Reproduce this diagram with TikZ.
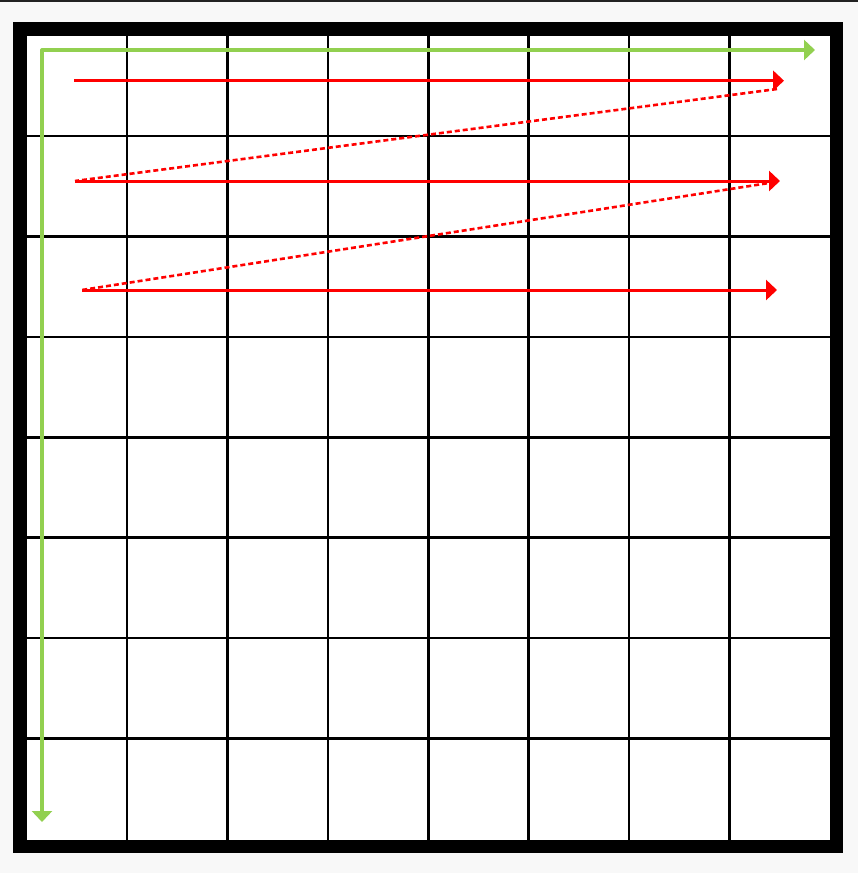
\documentclass[tikz,border=0pt]{standalone}
\usetikzlibrary{arrows.meta}
\definecolor{bggray}{HTML}{F8F8F8}
\definecolor{topbar}{HTML}{222222}
\definecolor{axisgreen}{HTML}{92D050}
\definecolor{scanred}{HTML}{FF0000}
\begin{document}
\begin{tikzpicture}[x=1pt,y=-1pt,
  gridline/.style={black,line width=2.6pt},
  axisarrow/.style={axisgreen,line width=3.3pt,line cap=round,-{Triangle[length=11pt,width=20pt]}},
  rowarrow/.style={scanred,line width=3pt,-{Triangle[length=11pt,width=20pt]}},
  returnline/.style={scanred,line width=2.6pt,dash pattern=on 5pt off 3pt}]
\useasboundingbox (0,0) rectangle (858,873);
\fill[bggray] (0,0) rectangle (858,873);
\fill[topbar] (0,0) rectangle (858,2);
% frame
\fill[black] (13,22) rectangle (843,853);
\fill[white] (26.7,35.7) rectangle (830,839.5);
% grid
\foreach \i in {1,...,7} {
  \draw[gridline] ({26.7+100.4*\i},35.7) -- ({26.7+100.4*\i},839.5);
  \draw[gridline] (26.7,{35.7+100.4*\i}) -- (830,{35.7+100.4*\i});
}
% coordinates
\coordinate (origin) at (42,50);
\coordinate (xend) at (815,50);
\coordinate (yend) at (42,822);
\coordinate (r1s) at (74,80.7);
\coordinate (r1e) at (784,80.7);
\coordinate (d1s) at (777,89);
\coordinate (r2s) at (75,181);
\coordinate (r2e) at (780,181);
\coordinate (d2s) at (767,183.3);
\coordinate (r3s) at (82,290);
\coordinate (r3e) at (777,290);
% green axes
\draw[axisarrow] (origin) -- (xend);
\draw[axisarrow] (origin) -- (yend);
% red scan lines
\draw[returnline] (d1s) -- (r2s);
\draw[returnline] (d2s) -- (r3s);
\draw[rowarrow] (r1s) -- (r1e);
\draw[rowarrow] (r2s) -- (r2e);
\draw[rowarrow] (r3s) -- (r3e);
\end{tikzpicture}
\end{document}
